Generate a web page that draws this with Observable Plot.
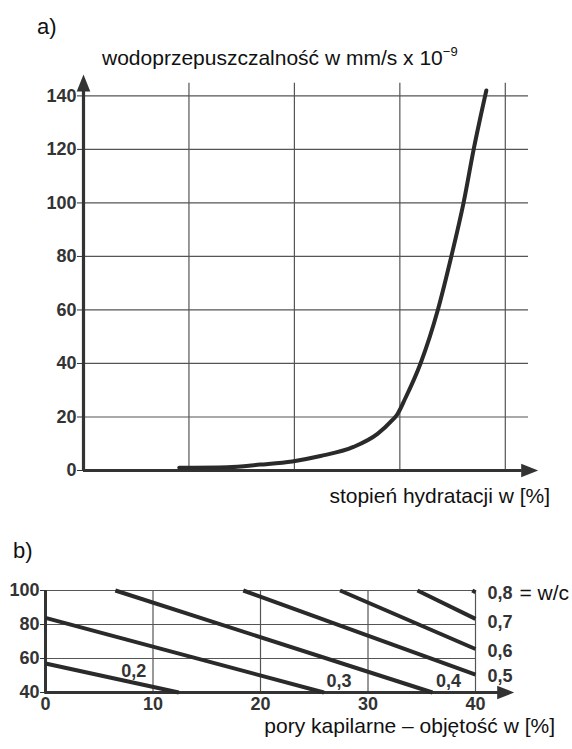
<!DOCTYPE html>
<html><head><meta charset="utf-8">
<script src="https://cdn.jsdelivr.net/npm/d3@7"></script>
<script src="https://cdn.jsdelivr.net/npm/@observablehq/plot@0.6"></script>
<style>
body{margin:0;background:#fff;}
#wrap{position:relative;width:572px;height:749px;overflow:hidden;font-family:"Liberation Sans",Arial,sans-serif;color:#111;}
.lbl{position:absolute;white-space:nowrap;line-height:1;}
#wrap svg{position:absolute;left:0;}
</style></head><body>
<div id="wrap">
  <div class="lbl" style="left:37px;top:16px;font-size:22px">a)</div>
  <div class="lbl" style="left:102px;top:47px;font-size:21px">wodoprzepuszczalność w mm/s x 10<span style="font-size:13px;position:relative;top:-9px">−9</span></div>
  <div class="lbl" style="right:22px;top:485px;font-size:21px">stopień hydratacji w [%]</div>
  <div class="lbl" style="left:13px;top:540px;font-size:22px">b)</div>
  <div class="lbl" style="right:17px;top:720px;font-size:21px;line-height:12px">pory kapilarne – objętość w [%]</div>
</div>
<script>
// ---- Chart a) data: degree of hydration [%] vs. permeability [mm/s x 10^-9]
const hydrationDegree = [22.7, 34.1, 41.9, 49.5, 56.2, 64.0, 69.7, 73.2, 74.4, 76.3, 79.9, 84.0, 87.2, 90.1, 92.5, 95.5];
const permeability    = [1.0,  1.2,  2.2,  3.4,  5.4,  8.8, 13.7, 18.8, 21.0, 27.0, 40.0, 60.0, 80.0, 100, 120, 142];
const yTicksA = [0, 20, 40, 60, 80, 100, 120, 140];
const xGridA = [25, 50, 75, 100];

// ---- Chart b) data: w/c lines, capillary pores volume [%] vs. degree of hydration [%]
const wcLabels  = ["0,2", "0,3", "0,4", "0,5", "0,6", "0,7", "0,8"];
const poreStart = [0, 0, 6.5, 18.4, 27.4, 34.6, 39.7];
const hydStart  = [57.1, 83.9, 100, 100, 100, 100, 100];
const poreEnd   = [12.4, 25.9, 36.0, 40, 40, 40, 40];
const hydEnd    = [40, 40, 40, 50.5, 65.6, 83.3, 99];
const innerLabels = ["0,2", "0,3", "0,4"];
const innerLabelX = [8.2, 27.3, 37.5];
const innerLabelY = [52.4, 46.9, 46.9];
const sideLabels  = ["0,8", "0,7", "0,6", "0,5"];
const sideLabelY  = [98.5, 81.3, 64.0, 49.3];
const xTicksB = [0, 10, 20, 30, 40];
const yTicksB = [40, 60, 80, 100];

const ink = "#333";
const gridColor = "#555";
const arrowHead = {
  draw(ctx, size) {
    const l = Math.sqrt(size);
    ctx.moveTo(0, 0);
    ctx.lineTo(-0.4 * l, l);
    ctx.lineTo(0.4 * l, l);
    ctx.closePath();
  }
};
const baseStyle = {fontFamily: "'Liberation Sans', Arial, sans-serif", fontSize: "18px", fontWeight: "bold", color: ink, background: "transparent", overflow: "visible"};

const curveA = hydrationDegree.map((x, i) => ({x, y: permeability[i]}));

const chartA = Plot.plot({
  width: 572, height: 480,
  marginLeft: 83, marginRight: 44, marginTop: 74, marginBottom: 10,
  x: {domain: [0, 105.5], axis: null},
  y: {domain: [0, 148]},
  style: baseStyle,
  marks: [
    Plot.ruleY(yTicksA.filter(d => d > 0), {x1: 0, x2: 105.5, stroke: gridColor, strokeWidth: 1.2}),
    Plot.ruleX(xGridA, {y1: 0, y2: 144.7, stroke: gridColor, strokeWidth: 1.2}),
    Plot.axisY(yTicksA, {tickSize: 6, tickPadding: 1, label: null}),
    Plot.ruleX([0], {y1: 0, y2: 142, stroke: ink, strokeWidth: 3.2}),
    Plot.ruleY([0], {x1: 0, x2: 104, stroke: ink, strokeWidth: 3.2}),
    Plot.dot([{x: 0, y: 148}], {x: "x", y: "y", symbol: arrowHead, r: 9.6, fill: ink, stroke: null}),
    Plot.dot([{x: 107.8, y: 0}], {x: "x", y: "y", symbol: arrowHead, r: 9.6, rotate: 90, fill: ink, stroke: null}),
    Plot.line(curveA, {x: "x", y: "y", curve: "monotone-x", stroke: "#2a2a2a", strokeWidth: 4})
  ]
});
chartA.style.top = "0px";

const linesB = wcLabels.map((w, i) => ({w, x1: poreStart[i], y1: hydStart[i], x2: poreEnd[i], y2: hydEnd[i]}));
const innerB = innerLabels.map((t, i) => ({t, x: innerLabelX[i], y: innerLabelY[i]}));
const sideB = sideLabels.map((t, i) => ({t, y: sideLabelY[i]}));

const chartB = Plot.plot({
  width: 572, height: 189,
  marginLeft: 45, marginRight: 97, marginTop: 30, marginBottom: 57,
  x: {domain: [0, 40]},
  y: {domain: [40, 100]},
  style: baseStyle,
  marks: [
    Plot.ruleY([60, 80, 100], {x1: 0, x2: 40, stroke: gridColor, strokeWidth: 1.2}),
    Plot.ruleX([10, 20, 30, 40], {y1: 40, y2: 100, stroke: gridColor, strokeWidth: 1.2}),
    Plot.axisY(yTicksB, {tickSize: 5, tickPadding: 1, label: null}),
    Plot.axisX(xTicksB, {tickSize: 0, tickPadding: 5, label: null}),
    Plot.ruleX([0], {y1: 39, y2: 100, stroke: ink, strokeWidth: 3}),
    Plot.ruleY([40], {x1: 0, x2: 42.5, stroke: ink, strokeWidth: 3}),
    Plot.dot([{x: 43.6, y: 40}], {x: "x", y: "y", symbol: arrowHead, r: 9.6, rotate: 90, fill: ink, stroke: null}),
    Plot.link(linesB, {x1: "x1", y1: "y1", x2: "x2", y2: "y2", stroke: "#2a2a2a", strokeWidth: 4}),
    Plot.text(innerB, {x: "x", y: "y", text: "t", fontSize: 18, fontWeight: "bold", fill: ink}),
    Plot.text(sideB, {x: () => 40, y: "y", text: "t", dx: 12, textAnchor: "start", fontSize: 18, fontWeight: "bold", fill: ink}),
    Plot.text(["= w/c"], {x: () => 40, y: () => 98.5, text: d => d, dx: 44, textAnchor: "start", fontSize: 21, fontWeight: "normal", fill: "#111"})
  ]
});
chartB.style.top = "560px";

const wrap = document.getElementById("wrap");
wrap.insertBefore(chartA, wrap.firstChild);
wrap.insertBefore(chartB, wrap.firstChild);
</script>
</body></html>
